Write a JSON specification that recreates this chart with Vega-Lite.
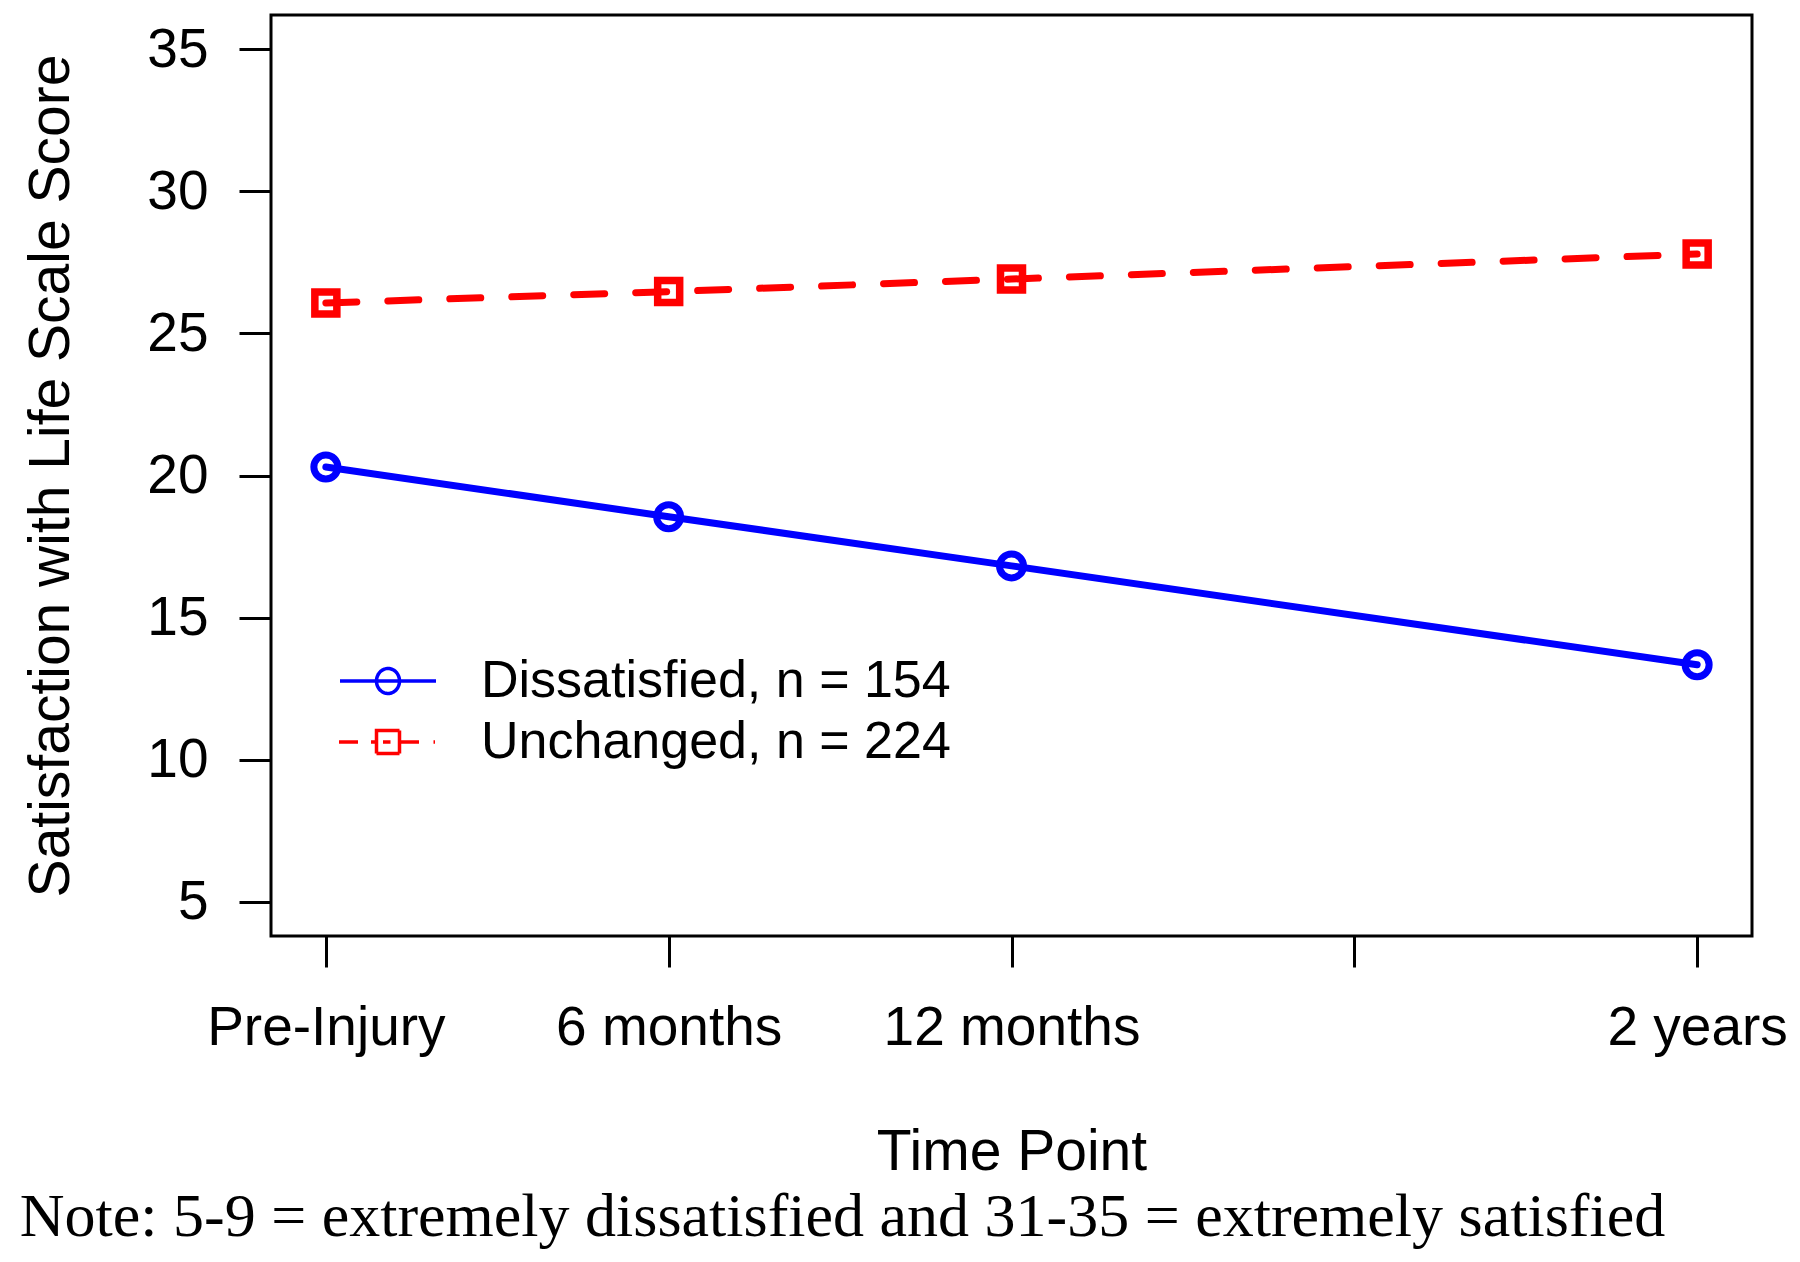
{
  "$schema": "https://vega.github.io/schema/vega-lite/v6.json",
  "width": 1481,
  "height": 921,
  "autosize": {"type": "none"},
  "padding": {"left": 271, "top": 15, "right": 48, "bottom": 326},
  "background": "white",
  "title": {
    "text": "Note: 5-9 = extremely dissatisfied and 31-35 = extremely satisfied",
    "orient": "bottom",
    "anchor": "start",
    "frame": "bounds",
    "font": "Liberation Serif",
    "fontSize": 62,
    "fontWeight": "normal",
    "color": "black",
    "dx": -3,
    "offset": 7
  },
  "data": {
    "values": [
      {"t": 0, "group": "Dissatisfied, n = 154", "score": 20.3},
      {"t": 6, "group": "Dissatisfied, n = 154", "score": 18.55},
      {"t": 12, "group": "Dissatisfied, n = 154", "score": 16.82},
      {"t": 24, "group": "Dissatisfied, n = 154", "score": 13.34},
      {"t": 0, "group": "Unchanged, n = 224", "score": 26.07},
      {"t": 6, "group": "Unchanged, n = 224", "score": 26.47},
      {"t": 12, "group": "Unchanged, n = 224", "score": 26.91},
      {"t": 24, "group": "Unchanged, n = 224", "score": 27.79}
    ]
  },
  "encoding": {
    "x": {
      "field": "t",
      "type": "quantitative",
      "scale": {"domain": [-0.96, 24.96], "nice": false, "zero": false},
      "axis": {
        "title": "Time Point",
        "values": [0, 6, 12, 18, 24],
        "labelExpr": "datum.value == 0 ? 'Pre-Injury' : datum.value == 6 ? '6 months' : datum.value == 12 ? '12 months' : datum.value == 24 ? '2 years' : ''",
        "grid": false,
        "domain": false,
        "tickSize": 31,
        "tickWidth": 3,
        "tickColor": "black",
        "labelPadding": 34,
        "labelFont": "Liberation Sans",
        "labelFontSize": 55,
        "labelColor": "black",
        "labelOverlap": false,
        "labelFlush": false,
        "labelLimit": 0,
        "titleFont": "Liberation Sans",
        "titleFontSize": 57,
        "titleFontWeight": "normal",
        "titleColor": "black",
        "titlePadding": 69
      }
    },
    "y": {
      "field": "score",
      "type": "quantitative",
      "scale": {"domain": [3.8, 36.2], "nice": false, "zero": false},
      "axis": {
        "title": "Satisfaction with Life Scale Score",
        "values": [5, 10, 15, 20, 25, 30, 35],
        "grid": false,
        "domain": false,
        "tickSize": 32,
        "tickWidth": 3,
        "tickColor": "black",
        "labelPadding": 31,
        "labelFont": "Liberation Sans",
        "labelFontSize": 55,
        "labelColor": "black",
        "labelFlush": false,
        "titleFont": "Liberation Sans",
        "titleFontSize": 57,
        "titleFontWeight": "normal",
        "titleColor": "black",
        "titlePadding": 66
      }
    }
  },
  "layer": [
    {
      "transform": [{"filter": "datum.group === 'Dissatisfied, n = 154'"}],
      "mark": {"type": "line", "strokeWidth": 7, "strokeCap": "round"},
      "encoding": {
        "color": {
          "field": "group",
          "type": "nominal",
          "scale": {"domain": ["Dissatisfied, n = 154", "Unchanged, n = 224"], "range": ["#0000FF", "#FF0000"]},
          "legend": {
            "title": null,
            "orient": "none",
            "legendX": 90,
            "legendY": 639,
            "padding": 0,
            "values": ["Dissatisfied, n = 154", "Unchanged, n = 224"],
            "symbolSize": 2500,
            "symbolStrokeWidth": 3.5,
            "symbolType": "stroke",
            "labelFont": "Liberation Sans",
            "labelFontSize": 52,
            "labelColor": "black",
            "labelOffset": 66,
            "labelLimit": 0,
            "rowPadding": 8,
            "encode": {
              "symbols": {
                "update": {
                  "shape": {"signal": "datum.value === 'Dissatisfied, n = 154' ? 'M-1.92,0L1.92,0M-0.46,0A0.46,0.5 0 1,1 0.46,0A0.46,0.5 0 1,1 -0.46,0Z' : 'M-1.96,0L-1.2,0M-0.68,0L-0.46,0M-0.46,-0.46L0.46,-0.46L0.46,0.46L-0.46,0.46ZM0.46,0L1.24,0M1.82,0L1.88,0M-0.2,0L0.1,0'"},
                  "fill": {"value": "transparent"},
                  "strokeDash": {"value": [1, 0]}
                }
              }
            }
          }
        }
      }
    },
    {
      "transform": [{"filter": "datum.group === 'Unchanged, n = 224'"}],
      "mark": {"type": "line", "strokeWidth": 7, "strokeCap": "round", "strokeDash": [31, 31]},
      "encoding": {
        "color": {"field": "group", "type": "nominal", "legend": null}
      }
    },
    {
      "transform": [{"filter": "datum.group === 'Dissatisfied, n = 154'"}],
      "mark": {"type": "point", "shape": "circle", "size": 576, "filled": false, "strokeWidth": 7, "opacity": 1},
      "encoding": {
        "color": {"field": "group", "type": "nominal", "legend": null}
      }
    },
    {
      "transform": [{"filter": "datum.group === 'Unchanged, n = 224'"}],
      "mark": {"type": "point", "shape": "square", "size": 484, "filled": false, "strokeWidth": 7.5, "opacity": 1},
      "encoding": {
        "color": {"field": "group", "type": "nominal", "legend": null}
      }
    }
  ],
  "config": {
    "view": {"stroke": "black", "strokeWidth": 3}
  }
}
